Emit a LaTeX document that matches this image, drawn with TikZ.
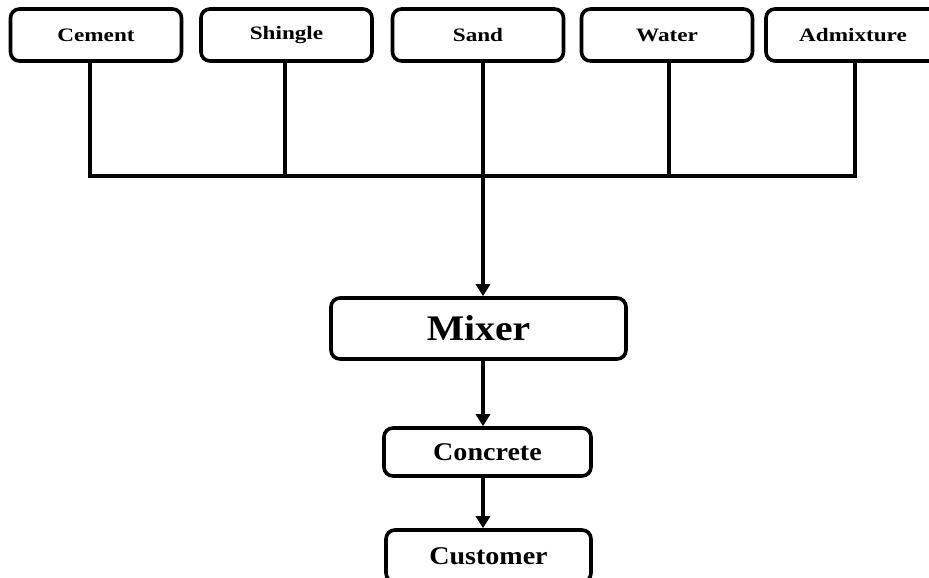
\documentclass[tikz,border=0pt]{standalone}
\usepackage{fontspec}
\setmainfont{Liberation Serif}
\newfontfamily\topfont[FakeStretch=1.22]{Liberation Serif}
\newfontfamily\midfont[FakeStretch=1.1]{Liberation Serif}
\usetikzlibrary{arrows.meta}
\begin{document}
\begin{tikzpicture}[x=1pt,y=-1pt,
  box/.style={draw=black, line width=3.6pt, rounded corners=9pt, fill=white, inner sep=0pt, align=center},
  topbox/.style={box, minimum width=171pt, minimum height=52pt, font=\topfont\bfseries\fontsize{19}{21}\selectfont},
  wire/.style={line width=3.6pt, line join=miter},
  arrowline/.style={wire, -{Triangle[length=12pt,width=14pt]}}]
\useasboundingbox (0,0) rectangle (929,578);
\node[topbox] (cement) at (96,35) {Cement};
\node[topbox] (shingle) at (286.5,35) {Shingle};
\node[topbox] (sand) at (478,35) {Sand};
\node[topbox] (water) at (667,35) {Water};
\node[topbox, minimum width=174pt] (admix) at (853,35) {Admixture};
\node[box, minimum width=295pt, minimum height=61pt, font=\midfont\bfseries\fontsize{36}{38}\selectfont] (mixer) at (478.5,328.5) {Mixer};
\node[box, minimum width=207pt, minimum height=48pt, font=\midfont\bfseries\fontsize{25.5}{28}\selectfont] (concrete) at (487.5,452) {Concrete};
\node[box, minimum width=205pt, minimum height=52pt, font=\midfont\bfseries\fontsize{25.5}{28}\selectfont] (customer) at (488.5,556) {Customer};
\coordinate (b1) at (90,176);
\coordinate (b2) at (285,176);
\coordinate (j) at (483,176);
\coordinate (b4) at (669,176);
\coordinate (b5) at (855,176);
\draw[wire] (cement.south -| b1) -- (b1) -- (b5) -- (admix.south -| b5);
\draw[wire] (shingle.south -| b2) -- (b2);
\draw[wire] (water.south -| b4) -- (b4);
\draw[arrowline] (sand.south -| j) -- (j |- mixer.north);
\draw[arrowline] (mixer.south -| j) -- (j |- concrete.north);
\draw[arrowline] (concrete.south -| j) -- (j |- customer.north);
\end{tikzpicture}
\end{document}
